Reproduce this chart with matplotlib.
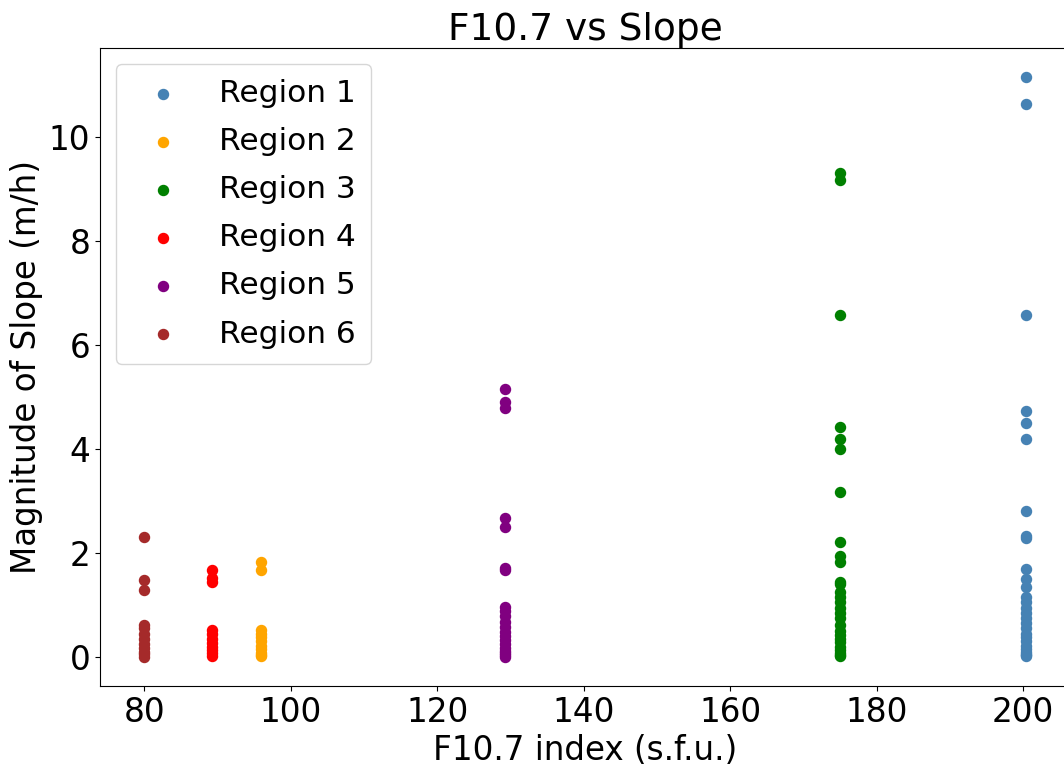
import matplotlib
matplotlib.use('Agg')
import matplotlib.pyplot as plt

# F10.7 index for each region
f107 = [200.4, 96.0, 175.0, 89.3, 129.3, 80.0]
labels = ['Region 1', 'Region 2', 'Region 3', 'Region 4', 'Region 5', 'Region 6']
colors = ['steelblue', 'orange', 'green', 'red', 'purple', 'brown']

# Magnitude of slope (m/h) per region
region1 = [11.15, 10.63, 6.57, 4.72, 4.50, 4.20, 2.80, 2.33, 2.28, 1.70, 1.50, 1.35,
           1.15, 1.05, 0.95, 0.85, 0.75, 0.65, 0.55, 0.45, 0.38, 0.30, 0.22, 0.15,
           0.10, 0.06, 0.03, 0.01]
region2 = [1.82, 1.67, 0.52, 0.45, 0.38, 0.30, 0.22, 0.15, 0.08, 0.03, 0.01]
region3 = [9.30, 9.17, 6.58, 4.43, 4.20, 3.99, 3.18, 2.22, 1.95, 1.83, 1.45, 1.40,
           1.25, 1.15, 1.05, 0.95, 0.85, 0.75, 0.62, 0.50, 0.42, 0.35, 0.28, 0.20,
           0.14, 0.08, 0.04, 0.01]
region4 = [1.68, 1.52, 1.44, 0.52, 0.45, 0.35, 0.27, 0.20, 0.13, 0.07, 0.02]
region5 = [5.15, 4.90, 4.78, 2.67, 2.49, 1.72, 1.68, 0.97, 0.88, 0.78, 0.68, 0.58,
           0.48, 0.40, 0.32, 0.25, 0.18, 0.12, 0.07, 0.03, 0.0]
region6 = [2.31, 1.48, 1.29, 0.62, 0.55, 0.45, 0.35, 0.25, 0.18, 0.10, 0.05, 0.0]
slopes = [region1, region2, region3, region4, region5, region6]

fig = plt.figure(figsize=(10.64, 7.68), dpi=100)
ax = fig.add_axes([0.094, 0.1068, 0.9117, 0.8307])

for x, ys, lab, c in zip(f107, slopes, labels, colors):
    ax.scatter([x] * len(ys), ys, s=52, color=c, label=lab)

ax.set_title('F10.7 vs Slope', fontsize=27)
ax.set_xlabel('F10.7 index (s.f.u.)', fontsize=23.5)
ax.set_ylabel('Magnitude of Slope (m/h)', fontsize=23.5)
ax.tick_params(labelsize=23.5)
ax.legend(loc='upper left', fontsize=22.5, labelspacing=0.61, borderpad=0.5)

fig.savefig('out.png', dpi=100)
